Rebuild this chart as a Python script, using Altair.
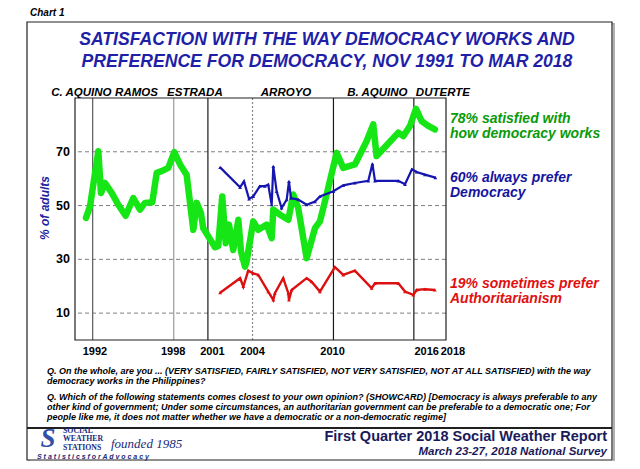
import altair as alt
import pandas as pd

FONT = "Liberation Sans"
SERIF = "Liberation Serif"

# ---- data (decimal year, % of adults) ----
sat_year = [1991.95, 1992.25, 1992.87, 1993.07, 1993.37, 1993.87, 1994.36, 1994.91, 1995.48, 1995.98,
            1996.35, 1996.9, 1997.23, 1997.6, 1998.09, 1998.54, 1998.97, 1999.46, 1999.96, 2000.21,
            2000.53, 2000.7, 2001.58, 2001.82, 2002.12, 2002.38, 2002.62, 2002.94, 2003.32, 2003.52,
            2003.82, 2003.94, 2004.43, 2004.81, 2005.44, 2005.81, 2005.93, 2006.43, 2007.05, 2007.42,
            2007.79, 2008.42, 2009.04, 2009.41, 2009.91, 2010.66, 2011.15, 2012.02, 2012.9, 2013.39,
            2013.64, 2015.26, 2015.63, 2016.13, 2016.58, 2017.0, 2017.49, 2017.99]
sat_val = [45.4, 49.7, 70.2, 54.7, 58.4, 54.7, 50.3, 46.2, 52.8, 48.5,
           51, 51.2, 62.2, 62.8, 64, 69.9, 65.3, 61.5, 41, 51,
           47.2, 41.6, 34.5, 35, 53.4, 36, 42.9, 33.5, 44.7, 32.9,
           27.3, 29.2, 44.1, 41, 42.9, 37.9, 48.5, 46.6, 44.7, 54.1,
           49.1, 30.4, 41.6, 44.1, 54.1, 69.6, 64, 65.3, 74, 80.2,
           68.4, 77.1, 75.8, 79.6, 86, 81.4, 79.6, 78.3]

dem_year = [2001.96, 2003.45, 2003.74, 2004.12, 2004.43, 2004.93, 2005.3, 2005.55, 2005.81, 2005.93,
            2006.18, 2006.55, 2006.93, 2007.1, 2007.25, 2007.79, 2008.42, 2009.04, 2009.41, 2010.41,
            2011.15, 2012.02, 2013.02, 2013.33, 2013.52, 2015.26, 2015.76, 2016.28, 2016.63, 2017.25,
            2018.03]
dem_val = [64.2, 56.8, 59, 52.5, 53.4, 57.2, 57.2, 57.8, 50.3, 64.6,
           55.3, 49.1, 52.2, 59, 52.8, 52.2, 50.3, 51.5, 53.4, 55.3,
           57.5, 58.4, 59.2, 65.5, 59.2, 59.2, 57.9, 63.5, 62.5, 61.5,
           60.4]

auth_year = [2001.96, 2003.45, 2003.69, 2004.06, 2004.43, 2004.81, 2005.55, 2005.93, 2006.05, 2006.67,
             2007.05, 2007.1, 2007.3, 2008.42, 2008.79, 2009.41, 2010.53, 2011.15, 2012.02, 2013.27,
             2013.52, 2015.26, 2015.76, 2016.38, 2016.63, 2017.25, 2017.99]
auth_val = [17.6, 23, 19.9, 25.8, 24.8, 24.2, 18, 14.9, 17.4, 23,
            17.4, 14.9, 18.6, 23, 21.7, 18, 27.1, 24.2, 25.8, 19.3,
            21.1, 21.1, 18, 16.8, 18.6, 18.9, 18.6]

tick_labels = ["1992", "1998", "2001", "2004", "2010", "2016", "2018"]
tick_label_year = [1992.62, 1998.46, 2001.39, 2004.38, 2010.35, 2017.38, 2019.34]

era_names = ["C. AQUINO", "RAMOS", "ESTRADA", "ARROYO", "B. AQUINO", "DUTERTE"]
era_label_year = [1991.61, 1995.72, 2000.08, 2006.88, 2013.7, 2018.59]

dark_lines = [2001.05, 2010.42, 2016.42]
mid_lines = [1992.45]
light_lines = [1998.5]
dotted_lines = [2004.38]

y_ticks = [10, 30, 50, 70]

GREEN = "#16e616"
BLUE = "#1515b0"
RED = "#dd1010"

xs = alt.Scale(domain=[1991.13, 2018.82], nice=False, zero=False)
ys = alt.Scale(domain=[0, 90], nice=False, zero=False)

one = alt.Data(values=[{}])


def deco(s, x, y, size, color="black", weight="bold", style="italic", align="left",
         font=FONT, angle=0):
    mk = dict(text=s, font=font, fontSize=size, fontWeight=weight, fontStyle=style,
              color=color, align=align, baseline="middle")
    if angle:
        mk["angle"] = angle
    return alt.Chart(one).mark_text(**mk).encode(x=alt.value(x), y=alt.value(y))


df_ticks_y = pd.DataFrame({"v": y_ticks})
grid_layer = alt.Chart(df_ticks_y).mark_rule(color="#808080", strokeWidth=1,
                                             strokeDash=[4, 3]).encode(
    y=alt.Y("v:Q", scale=ys, axis=None))
ylab_layer = alt.Chart(df_ticks_y).mark_text(font=FONT, fontSize=12.5, fontWeight="bold",
                                             align="right", baseline="middle",
                                             color="black").encode(
    x=alt.value(-5), y=alt.Y("v:Q", scale=ys, axis=None), text="v:Q")


def vlines(years, color, width=1.2, dash=None):
    kw = dict(color=color, strokeWidth=width)
    if dash:
        kw["strokeDash"] = dash
    return alt.Chart(pd.DataFrame({"yr": years})).mark_rule(**kw).encode(
        x=alt.X("yr:Q", scale=xs, axis=None))


df_sat = pd.DataFrame({"year": sat_year, "val": sat_val})
df_dem = pd.DataFrame({"year": dem_year, "val": dem_val})
df_auth = pd.DataFrame({"year": auth_year, "val": auth_val})

enc = dict(x=alt.X("year:Q", scale=xs, axis=None), y=alt.Y("val:Q", scale=ys, axis=None))

green = alt.Chart(df_sat).mark_line(color=GREEN, strokeWidth=6.5, strokeJoin="round",
                                    strokeCap="round").encode(**enc)
blue = alt.Chart(df_dem).mark_line(color=BLUE, strokeWidth=2.2).encode(**enc)
blue_pts = alt.Chart(df_dem).mark_point(shape="triangle-up", size=14, filled=True,
                                        color=BLUE, opacity=1).encode(**enc)
red = alt.Chart(df_auth).mark_line(color=RED, strokeWidth=2.4).encode(**enc)
red_pts = alt.Chart(df_auth).mark_point(shape="triangle-up", size=14, filled=True,
                                        color=RED, opacity=1).encode(**enc)

ticks_txt = alt.Chart(pd.DataFrame({"yr": tick_label_year, "lab": tick_labels})).mark_text(
    font=FONT, fontSize=11, fontWeight="bold", baseline="middle", color="black").encode(
    x=alt.X("yr:Q", scale=xs, axis=None), y=alt.value(254), text="lab:N")

era_txt = alt.Chart(pd.DataFrame({"yr": era_label_year, "lab": era_names})).mark_text(
    font=FONT, fontSize=11.5, fontWeight="bold", fontStyle="italic", baseline="middle",
    color="black").encode(
    x=alt.X("yr:Q", scale=xs, axis=None), y=alt.value(-5), text="lab:N")

# frame and boxes
outer_shadow = alt.Chart(one).mark_rect(fillOpacity=0, stroke="#b0b0b0", strokeWidth=2).encode(
    x=alt.value(-46), x2=alt.value(539), y=alt.value(-74), y2=alt.value(364))
outer = alt.Chart(one).mark_rect(fill="white", stroke="#202020", strokeWidth=1.2).encode(
    x=alt.value(-48), x2=alt.value(537), y=alt.value(-76), y2=alt.value(362))
divider = alt.Chart(one).mark_rule(color="#202020", strokeWidth=2).encode(
    x=alt.value(-48), x2=alt.value(537), y=alt.value(330))
plot_frame = alt.Chart(one).mark_rect(fillOpacity=0, stroke="#202020", strokeWidth=1.2).encode(
    x=alt.value(0), x2=alt.value(371), y=alt.value(0), y2=alt.value(242))

TITLE_C = "#1f1fa8"
QS = 9.0
texts = [
    deco("Chart 1", -45, -85, 10),
    deco("SATISFACTION  WITH THE WAY DEMOCRACY WORKS AND", 252, -58, 17.6, TITLE_C, align="center"),
    deco("PREFERENCE  FOR DEMOCRACY, NOV 1991 TO MAR 2018", 252, -36, 17.6, TITLE_C, align="center"),
    deco("% of adults", -30, 110, 12, "#2323a0", align="center", angle=270),
    deco("78% satisfied with", 375, 20.5, 14, "#0a9a0a"),
    deco("how democracy works", 375, 35.5, 14, "#0a9a0a"),
    deco("60% always prefer", 375, 79.5, 14, "#1515a0"),
    deco("Democracy", 375, 94.5, 14, "#1515a0"),
    deco("19% sometimes prefer", 375, 185.5, 14, "#e01010"),
    deco("Authoritarianism", 375, 200.5, 14, "#e01010"),
    deco("Q. On the whole, are you ... (VERY SATISFIED, FAIRLY SATISFIED, NOT VERY SATISFIED, NOT AT ALL SATISFIED) with the way",
         -28, 273, QS),
    deco("democracy works in the Philippines?", -28, 283, QS),
    deco("Q. Which of the following statements comes closest to your own opinion?  (SHOWCARD) [Democracy is always preferable to any",
         -28, 299, QS),
    deco("other kind of government; Under some circumstances, an authoritarian government can be preferable to a democratic one; For",
         -28, 309, QS),
    deco("people like me, it does not matter whether we have a democratic or a non-democratic regime]",
         -28, 319, QS),
    deco("First Quarter 2018 Social Weather Report", 532, 339, 14.5, "#1a1a5a", style="normal", align="right"),
    deco("March 23-27, 2018 National Survey", 532, 354, 11.5, "#1a1a5a", align="right"),
    # logo
    deco("S", -27, 341, 27, "#2f4fa8", font=SERIF, align="center"),
    deco("SOCIAL", -12, 332.5, 7.8, "#1c2a7a", style="normal", font=SERIF),
    deco("WEATHER", -12, 341, 7.8, "#1c2a7a", style="normal", font=SERIF),
    deco("STATIONS", -12, 349.5, 7.8, "#1c2a7a", style="normal", font=SERIF),
    deco("founded 1985", 36, 346, 13, "#1c2a7a", weight="normal", font=SERIF),
    deco("S t a t i s t i c s   f o r   A d v o c a c y", -38, 358.5, 7, "#1c2a7a"),
]

chart = alt.layer(
    outer_shadow, outer, divider, grid_layer, ylab_layer,
    vlines(mid_lines, "#5a5a5a"), vlines(light_lines, "#9a9a9a"),
    vlines(dark_lines, "#1a1a1a"), vlines(dotted_lines, "#8a8a8a", 1.2, [2, 2]),
    plot_frame,
    green, blue, blue_pts, red, red_pts,
    ticks_txt, era_txt, *texts
).properties(
    width=371, height=242,
    autosize=alt.AutoSizeParams(type="none"),
    padding={"left": 67, "top": 90, "right": 186, "bottom": 121},
).configure_view(stroke=None).configure(font=FONT, background="white")

chart.save("out.html", embed_options={"renderer": "svg", "actions": False})
